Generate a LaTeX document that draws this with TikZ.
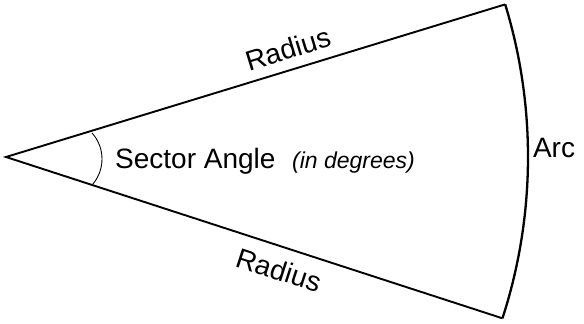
\documentclass[tikz,border=0pt]{standalone}
\usepackage{fontspec}
\setmainfont{Liberation Sans}
\usetikzlibrary{calc}
\begin{document}
\begin{tikzpicture}[x=1pt,y=1pt,
  radline/.style={line width=1.9pt, line join=miter},
  arcline/.style={line width=2.3pt},
  angarc/.style={line width=0.9pt},
  lbl/.style={font=\fontsize{28}{32}\selectfont, inner sep=0pt},
  sublbl/.style={font=\fontsize{23}{27}\selectfont\itshape, inner sep=0pt}]
\useasboundingbox (0,0) rectangle (584,-324);
\coordinate (A) at (6,-157);
\coordinate (T) at ($(A)+(17:522)$);
\coordinate (B) at ($(A)+(-18:522)$);
\draw[radline] (T) -- (A) -- (B);
\draw[arcline] (T) arc[start angle=17, end angle=-18, radius=522];
\coordinate (C) at (63,-159);
\coordinate (P) at ($(C)+(42:39)$);
\draw[angarc] (P) arc[start angle=42, end angle=-42, radius=39];
\node[lbl, rotate=17] (r1) at (288,-49) {Radius};
\node[lbl, rotate=-18] (r2) at (279,-270) {Radius};
\node[lbl] (arc) at (554,-148) {Arc};
\node[lbl, anchor=base west] (sa) at (115,-168) {Sector Angle};
\node[sublbl, anchor=base west] (deg) at (292,-168) {(in degrees)};
\end{tikzpicture}
\end{document}
